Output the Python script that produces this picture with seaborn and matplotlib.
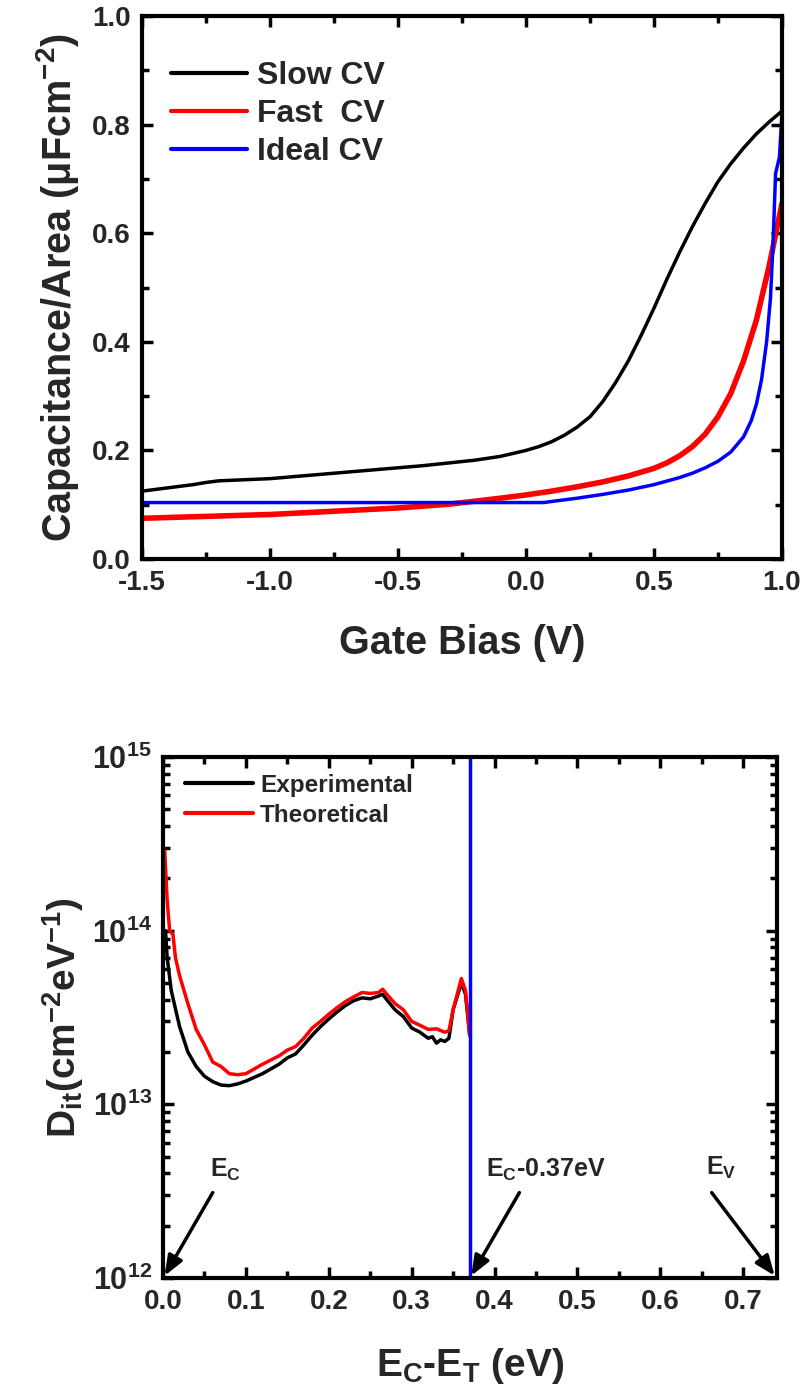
import matplotlib
matplotlib.use("Agg")
import matplotlib.pyplot as plt
import seaborn as sns
import numpy as np
from matplotlib.ticker import MultipleLocator, LogLocator, NullFormatter

# ---------------- data: top panel (C-V) ----------------
slow_x = [-1.5, -1.4, -1.3, -1.25, -1.2, -1.0, -0.8, -0.6, -0.4, -0.2, -0.1, 0.0, 0.05, 0.1,
          0.15, 0.2, 0.25, 0.3, 0.35, 0.4, 0.45, 0.5, 0.55, 0.6, 0.65, 0.7, 0.75, 0.8,
          0.85, 0.9, 0.95, 1.0]
slow_y = [0.125, 0.131, 0.137, 0.141, 0.144, 0.148, 0.156, 0.164, 0.172, 0.182, 0.189, 0.200,
          0.207, 0.216, 0.228, 0.243, 0.262, 0.290, 0.325, 0.365, 0.412, 0.462, 0.515,
          0.565, 0.612, 0.655, 0.695, 0.728, 0.757, 0.783, 0.805, 0.825]

fast_x = [-1.5, -1.0, -0.5, -0.3, -0.1, 0.0, 0.1, 0.2, 0.3, 0.4, 0.5, 0.55, 0.6, 0.65, 0.7,
          0.75, 0.8, 0.85, 0.9, 0.95, 1.0]
fast_y = [0.075, 0.082, 0.094, 0.101, 0.112, 0.118, 0.125, 0.133, 0.142, 0.153, 0.167,
          0.177, 0.190, 0.207, 0.230, 0.262, 0.305, 0.365, 0.440, 0.540, 0.655]

ideal_x = [-1.5, -1.0, -0.5, 0.0, 0.07, 0.1, 0.2, 0.3, 0.4, 0.5, 0.6, 0.65, 0.7, 0.75, 0.8,
           0.85, 0.88, 0.9, 0.92, 0.94, 0.955, 0.965, 0.975, 0.99, 1.0]
ideal_y = [0.104, 0.104, 0.104, 0.104, 0.104, 0.106, 0.112, 0.119, 0.127, 0.137, 0.150,
           0.158, 0.168, 0.180, 0.197, 0.225, 0.255, 0.285, 0.330, 0.400, 0.480, 0.580,
           0.710, 0.740, 0.820]

cv_labels = ["Slow CV", "Fast  CV", "Ideal CV"]

# ---------------- data: bottom panel (Dit) ----------------
exp_x = [0.003, 0.005, 0.01, 0.02, 0.03, 0.04, 0.05, 0.06, 0.07, 0.08, 0.09, 0.10, 0.12,
         0.14, 0.15, 0.16, 0.17, 0.18, 0.19, 0.20, 0.21, 0.22, 0.23, 0.24, 0.25, 0.26,
         0.265, 0.27, 0.28, 0.29, 0.30, 0.31, 0.32, 0.325, 0.33, 0.335, 0.34, 0.345,
         0.35, 0.36, 0.365, 0.37]
exp_y = [1.0e14, 7.0e13, 4.5e13, 2.8e13, 2.0e13, 1.65e13, 1.45e13, 1.35e13, 1.29e13,
         1.28e13, 1.31e13, 1.36e13, 1.50e13, 1.70e13, 1.85e13, 1.95e13, 2.20e13, 2.50e13,
         2.80e13, 3.10e13, 3.40e13, 3.70e13, 3.95e13, 4.10e13, 4.05e13, 4.20e13, 4.30e13,
         4.00e13, 3.50e13, 3.20e13, 2.75e13, 2.60e13, 2.40e13, 2.45e13, 2.25e13, 2.35e13,
         2.30e13, 2.40e13, 3.50e13, 5.00e13, 4.30e13, 2.50e13]

theo_x = [0.002, 0.005, 0.008, 0.012, 0.015, 0.02, 0.03, 0.035, 0.04, 0.05, 0.06, 0.07,
          0.08, 0.09, 0.10, 0.12, 0.14, 0.15, 0.16, 0.17, 0.18, 0.19, 0.20, 0.21, 0.22,
          0.23, 0.24, 0.25, 0.26, 0.265, 0.27, 0.28, 0.29, 0.30, 0.31, 0.32, 0.33, 0.34,
          0.345, 0.35, 0.36, 0.365, 0.37]
theo_y = [2.9e14, 1.5e14, 1.0e14, 9.5e13, 7.0e13, 5.5e13, 3.8e13, 3.2e13, 2.7e13, 2.2e13,
          1.75e13, 1.65e13, 1.50e13, 1.48e13, 1.50e13, 1.70e13, 1.90e13, 2.05e13, 2.15e13,
          2.40e13, 2.75e13, 3.00e13, 3.30e13, 3.60e13, 3.90e13, 4.15e13, 4.40e13, 4.35e13,
          4.40e13, 4.60e13, 4.30e13, 3.80e13, 3.50e13, 3.00e13, 2.85e13, 2.70e13, 2.72e13,
          2.60e13, 2.65e13, 3.50e13, 5.30e13, 4.50e13, 2.50e13]

dit_labels = ["Experimental", "Theoretical"]
fermi_cut = 0.37

sns.set_theme(style="white")
plt.rcParams["font.family"] = ["Liberation Sans", "DejaVu Sans"]
plt.rcParams["font.weight"] = "bold"
plt.rcParams["axes.labelweight"] = "bold"
plt.rcParams["axes.unicode_minus"] = False
plt.rcParams["mathtext.fontset"] = "custom"
plt.rcParams["mathtext.rm"] = "Liberation Sans:bold"
plt.rcParams["mathtext.bf"] = "Liberation Sans:bold"
plt.rcParams["mathtext.it"] = "Liberation Sans:bold"
plt.rcParams["mathtext.default"] = "rm"

fig = plt.figure(figsize=(8.07, 13.93), dpi=100)
ax1 = fig.add_axes([0.176, 0.5987, 0.793, 0.3898])
ax2 = fig.add_axes([0.202, 0.0826, 0.761, 0.374])

# ---- top panel
sns.lineplot(x=slow_x, y=slow_y, ax=ax1, color="black", lw=2.5, label=cv_labels[0])
sns.lineplot(x=fast_x, y=fast_y, ax=ax1, color="#ff0000", lw=4, label=cv_labels[1])
sns.lineplot(x=ideal_x, y=ideal_y, ax=ax1, color="#0000ff", lw=2.5, label=cv_labels[2])
ax1.set_xlim(-1.5, 1.0)
ax1.set_ylim(0.0, 1.0)
ax1.xaxis.set_major_locator(MultipleLocator(0.5))
ax1.xaxis.set_minor_locator(MultipleLocator(0.25))
ax1.yaxis.set_major_locator(MultipleLocator(0.2))
ax1.yaxis.set_minor_locator(MultipleLocator(0.1))
ax1.set_xlabel("Gate Bias (V)", fontsize=28.5, labelpad=20)
ax1.set_ylabel("Capacitance/Area ($\\mu$Fcm$^{-2}$)", fontsize=28.5, labelpad=8)
leg1 = ax1.legend(loc="upper left", frameon=False, fontsize=23, handlelength=2.4,
                  handletextpad=0.3, labelspacing=0.25, bbox_to_anchor=(0.0, 0.97))
for h in leg1.get_lines():
    h.set_linewidth(3)

# ---- bottom panel
sns.lineplot(x=exp_x, y=exp_y, ax=ax2, color="black", lw=2.5, label=dit_labels[0])
sns.lineplot(x=theo_x, y=theo_y, ax=ax2, color="#ff0000", lw=2.5, label=dit_labels[1])
ax2.axvline(fermi_cut, color="#0000ff", lw=2.5)
ax2.set_yscale("log")
ax2.set_xlim(0.0, 0.741)
ax2.set_ylim(1e12, 1e15)
ax2.xaxis.set_major_locator(MultipleLocator(0.1))
ax2.xaxis.set_minor_locator(MultipleLocator(0.05))
ax2.yaxis.set_major_locator(LogLocator(base=10, numticks=10))
ax2.yaxis.set_minor_locator(LogLocator(base=10, subs=np.arange(2, 10), numticks=20))
ax2.yaxis.set_minor_formatter(NullFormatter())
ax2.set_xlabel("E$_C$-E$_T$ (eV)", fontsize=28, labelpad=22)
ax2.set_ylabel("D$_{it}$(cm$^{-2}$eV$^{-1}$)", fontsize=28, labelpad=4)
leg2 = ax2.legend(loc="upper left", frameon=False, fontsize=17.5, handlelength=2.8,
                  handletextpad=0.3, labelspacing=0.3, bbox_to_anchor=(0.0, 1.01))
for h in leg2.get_lines():
    h.set_linewidth(3)

arrow = dict(arrowstyle="-|>,head_length=1.0,head_width=0.4", color="black", lw=2.5,
             shrinkA=0, shrinkB=0)
ax2.annotate("", xy=(0.002, 1.03e12), xytext=(0.06, 3.1e12), arrowprops=arrow)
ax2.annotate("", xy=(0.372, 1.03e12), xytext=(0.43, 3.1e12), arrowprops=arrow)
ax2.annotate("", xy=(0.738, 1.03e12), xytext=(0.662, 3.1e12), arrowprops=arrow)
ax2.text(0.075, 4.2e12, "E$_C$", fontsize=18, ha="center", va="center")
ax2.text(0.462, 4.2e12, "E$_C$-0.37eV", fontsize=18, ha="center", va="center")
ax2.text(0.674, 4.3e12, "E$_V$", fontsize=18, ha="center", va="center")

for ax in (ax1, ax2):
    for s in ax.spines.values():
        s.set_visible(True)
        s.set_color("black")
        s.set_linewidth(3)
    ax.tick_params(which="both", direction="in", top=True, right=True, bottom=True,
                   left=True, color="black")
    ax.tick_params(which="major", length=8, width=2.5, labelsize=20, pad=8)
    ax.tick_params(which="minor", length=5, width=2.5)
    for lab in ax.get_xticklabels() + ax.get_yticklabels():
        lab.set_fontweight("bold")
ax2.tick_params(axis="y", which="major", labelsize=22)

fig.savefig("out.png", dpi=100, facecolor="white")
